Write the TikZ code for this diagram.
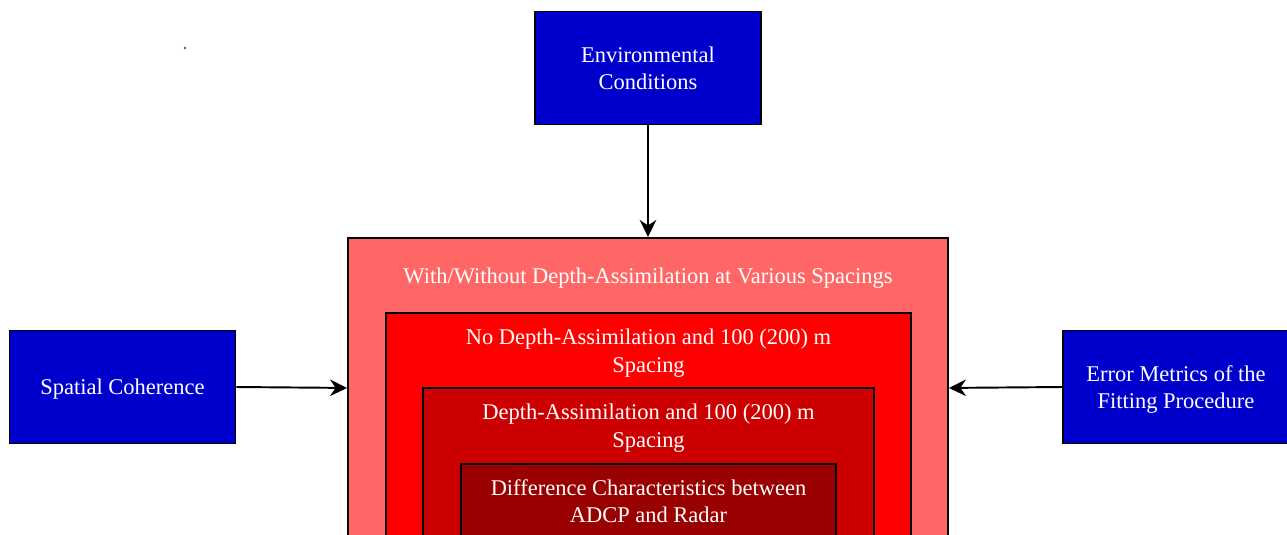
\documentclass[tikz,border=0pt]{standalone}
\usepackage{fontspec}
\setmainfont{Liberation Serif}
\usetikzlibrary{positioning, arrows.meta}

\definecolor{factorblue}{HTML}{0000CC}
\definecolor{layerA}{HTML}{FF6666}
\definecolor{layerB}{HTML}{FF0000}
\definecolor{layerC}{HTML}{CC0000}
\definecolor{layerD}{HTML}{990000}
\definecolor{dotblue}{HTML}{3F3FFF}

\begin{document}
\begin{tikzpicture}[
    x=0.02cm, y=-0.02cm,    % 1単位 = 1px（y軸は下向き）
    >={Stealth[length=3.4mm, width=3.3mm, inset=1.1mm]},
    font=\fontsize{12.8}{15.4}\selectfont,
    factor/.style={draw=black, line width=1.1pt, fill=factorblue, text=white,
        minimum width=4.52cm, minimum height=2.26cm, align=center, text depth=0pt},
    layer/.style={draw=black, line width=1.1pt, anchor=north},
    layertext/.style={text=white, align=center, inner sep=0pt},
    link/.style={->, line width=1.1pt}
]

    % --- 1. 描画範囲 ---
    \clip (0,0) rectangle (1287,534);

    % 左上の小さな点
    \fill [dotblue] (185,48) circle (0.8pt);

    % --- 2. 入れ子の四角形（下端ははみ出す） ---
    \node [layer, fill=layerA, minimum width=12cm, minimum height=6cm] (outer) at (648,237) {};
    \node [layer, fill=layerB, minimum width=10.5cm, minimum height=5cm] (nodepth) at (648.5,312) {};
    \node [layer, fill=layerC, minimum width=9.02cm, minimum height=4cm] (depth) at (648.5,387) {};
    \node [layer, fill=layerD, minimum width=7.5cm, minimum height=3cm] (diff) at (648.5,463) {};

    % 各層のラベル
    \node [layertext, below=0.61cm of outer.north] (outer_t) {With/Without Depth-Assimilation at Various Spacings};
    \node [layertext, below=0.34cm of nodepth.north] (nodepth_t) {No Depth-Assimilation and 100 (200) m\\Spacing};
    \node [layertext, below=0.34cm of depth.north] (depth_t) {Depth-Assimilation and 100 (200) m\\Spacing};
    \node [layertext, below=0.33cm of diff.north] (diff_t) {Difference Characteristics between\\ADCP and Radar};

    % --- 3. 周囲の要因ボックス ---
    \node [factor] (env) at (648,68) {Environmental\\Conditions};
    \node [factor] (spatial) at (122.5,387) {Spatial Coherence};
    \node [factor] (errmetrics) at (1176,387) {Error Metrics of the\\Fitting Procedure};

    % --- 4. 矢印 ---
    \draw [link] (env.south) -- (outer.north);
    \draw [link] (spatial.east) -- (outer.west);
    \draw [link] (errmetrics.west) -- (outer.east);

\end{tikzpicture}
\end{document}
